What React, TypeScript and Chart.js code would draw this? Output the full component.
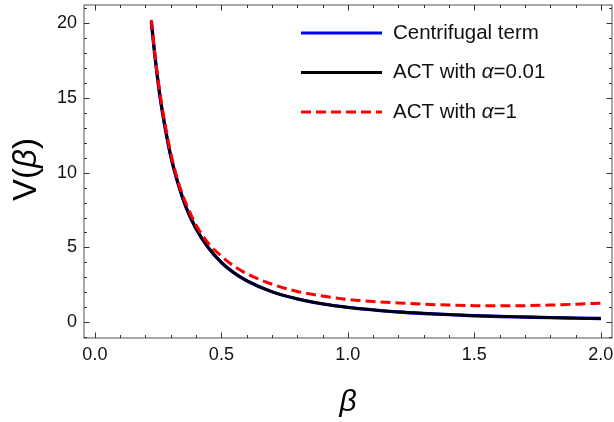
import { useEffect, useRef } from "react";
import { Chart, registerables } from "chart.js";

Chart.register(...registerables);

// β sample points
const beta = [0.223, 0.24, 0.26, 0.28, 0.3, 0.33, 0.36, 0.4, 0.45, 0.5, 0.55, 0.6, 0.7, 0.8, 0.9, 1.0, 1.1, 1.2, 1.3, 1.4, 1.5, 1.6, 1.7, 1.8, 1.9, 2.0];
// Centrifugal term (blue)
const centrifugal = [20.1, 17.4, 14.8, 12.8, 11.1, 9.2, 7.7, 6.25, 4.95, 4.0, 3.3, 2.78, 2.04, 1.56, 1.23, 1.0, 0.83, 0.69, 0.59, 0.51, 0.44, 0.39, 0.35, 0.31, 0.28, 0.25];
// ACT with α=0.01 (black)
const actAlpha001 = [20.1, 17.4, 14.8, 12.8, 11.1, 9.2, 7.7, 6.25, 4.95, 4.0, 3.3, 2.78, 2.04, 1.56, 1.23, 1.0, 0.83, 0.69, 0.59, 0.51, 0.44, 0.39, 0.35, 0.31, 0.28, 0.25];
// ACT with α=1 (red dashed)
const actAlpha1 = [20.2, 17.5, 15.0, 13.0, 11.3, 9.35, 7.95, 6.5, 5.25, 4.42, 3.75, 3.25, 2.55, 2.06, 1.75, 1.53, 1.39, 1.29, 1.21, 1.15, 1.11, 1.1, 1.11, 1.15, 1.21, 1.28];

const xTickValues = [0, 0.5, 1, 1.5, 2];
const xTickLabels = ["0.0", "0.5", "1.0", "1.5", "2.0"];
const yTickValues = [0, 5, 10, 15, 20];
const yTickLabels = ["0", "5", "10", "15", "20"];
const xRange = [-0.043, 2.044];
const yRange = [-1.05, 21.2];

const legendItems = [
  { parts: [{ t: "Centrifugal term", i: false }], color: "#0000ff", dash: [] as number[] },
  { parts: [{ t: "ACT with ", i: false }, { t: "α", i: true }, { t: "=0.01", i: false }], color: "#000000", dash: [] as number[] },
  { parts: [{ t: "ACT with ", i: false }, { t: "α", i: true }, { t: "=1", i: false }], color: "#ff0000", dash: [10, 5] },
];

const FONT = "'Liberation Sans', Arial, sans-serif";

function toPoints(vals: number[]) {
  return beta.map((b, i) => ({ x: b, y: vals[i] }));
}

function drawRich(ctx: CanvasRenderingContext2D, parts: { t: string; i: boolean }[], x: number, y: number, size: number, align: "left" | "center") {
  const widths = parts.map((p) => {
    ctx.font = `${p.i ? "italic " : ""}${size}px ${FONT}`;
    return ctx.measureText(p.t).width;
  });
  const total = widths.reduce((a, b) => a + b, 0);
  let cx = align === "center" ? x - total / 2 : x;
  ctx.textAlign = "left";
  parts.forEach((p, k) => {
    ctx.font = `${p.i ? "italic " : ""}${size}px ${FONT}`;
    ctx.fillText(p.t, cx, y);
    cx += widths[k];
  });
}

const framePlugin = {
  id: "framePlugin",
  afterDatasetsDraw(chart: any) {
    const { ctx, chartArea, scales } = chart;
    const { left, right, top, bottom } = chartArea;
    ctx.save();
    ctx.strokeStyle = "#707070";
    ctx.lineWidth = 1.2;
    ctx.strokeRect(left, top, right - left, bottom - top);
    ctx.strokeStyle = "#333333";
    ctx.lineWidth = 1;
    const xs = scales.x;
    const ys = scales.y;
    ctx.beginPath();
    for (let k = 0; k <= 20; k++) {
      const v = k / 10;
      const major = k % 5 === 0;
      const len = major ? 5.5 : 3;
      const px = Math.round(xs.getPixelForValue(v)) + 0.5;
      ctx.moveTo(px, bottom);
      ctx.lineTo(px, bottom - len);
      ctx.moveTo(px, top);
      ctx.lineTo(px, top + len);
    }
    for (let v = -1; v <= 21; v++) {
      const major = v % 5 === 0;
      const len = major ? 5.5 : 3;
      const py = Math.round(ys.getPixelForValue(v)) + 0.5;
      if (py < top - 0.5 || py > bottom + 0.5) continue;
      ctx.moveTo(left, py);
      ctx.lineTo(left + len, py);
      ctx.moveTo(right, py);
      ctx.lineTo(right - len, py);
    }
    ctx.stroke();
    ctx.restore();
  },
  afterDraw(chart: any) {
    const { ctx, chartArea } = chart;
    ctx.save();
    ctx.fillStyle = "#000000";
    ctx.textBaseline = "middle";
    // legend
    const lx0 = chartArea.left + 217;
    const lx1 = lx0 + 81;
    const tx = lx1 + 11;
    legendItems.forEach((item, k) => {
      const y = chartArea.top + 28 + k * 39.5;
      ctx.beginPath();
      ctx.strokeStyle = item.color;
      ctx.lineWidth = 3;
      ctx.setLineDash(item.dash);
      ctx.moveTo(lx0, y);
      ctx.lineTo(lx1, y);
      ctx.stroke();
      ctx.setLineDash([]);
      ctx.fillStyle = "#111111";
      drawRich(ctx, item.parts, tx, y, 20.5, "left");
    });
    // x title
    const cxm = (chartArea.left + chartArea.right) / 2;
    ctx.fillStyle = "#000000";
    drawRich(ctx, [{ t: "β", i: true }], cxm, chartArea.bottom + 65, 30, "center");
    // y title
    const cym = (chartArea.top + chartArea.bottom) / 2;
    ctx.translate(27, cym - 2);
    ctx.rotate(-Math.PI / 2);
    drawRich(ctx, [{ t: "V(", i: false }, { t: "β", i: true }, { t: ")", i: false }], 0, 0, 33, "center");
    ctx.restore();
  },
};

export default function App() {
  const ref = useRef<HTMLCanvasElement | null>(null);
  useEffect(() => {
    if (!ref.current) return;
    const chart = new Chart(ref.current, {
      type: "scatter",
      data: {
        datasets: [
          {
            label: "ACT with α=1",
            data: toPoints(actAlpha1),
            showLine: true,
            borderColor: "#ff0000",
            borderWidth: 3,
            borderDash: [10, 5],
            pointRadius: 0,
            cubicInterpolationMode: "monotone",
            order: 1,
          },
          {
            label: "ACT with α=0.01",
            data: toPoints(actAlpha001),
            showLine: true,
            borderColor: "#000000",
            borderWidth: 2.8,
            pointRadius: 0,
            cubicInterpolationMode: "monotone",
            order: 2,
          },
          {
            label: "Centrifugal term",
            data: toPoints(centrifugal),
            showLine: true,
            borderColor: "#0000ff",
            borderWidth: 3.4,
            pointRadius: 0,
            cubicInterpolationMode: "monotone",
            order: 3,
          },
        ] as any,
      },
      options: {
        animation: false,
        responsive: false,
        maintainAspectRatio: false,
        layout: { padding: { top: 5, right: 2, left: 0, bottom: 0 } },
        plugins: { legend: { display: false }, tooltip: { enabled: false } },
        scales: {
          x: {
            type: "linear",
            min: xRange[0],
            max: xRange[1],
            grid: { display: false, drawTicks: false },
            border: { display: false },
            afterBuildTicks: (s: any) => {
              s.ticks = xTickValues.map((v) => ({ value: v }));
            },
            afterFit: (s: any) => {
              s.height = 84;
              s.paddingLeft = 0;
              s.paddingRight = 0;
            },
            ticks: {
              autoSkip: false,
              maxRotation: 0,
              padding: 6,
              color: "#111111",
              font: { family: FONT, size: 18 },
              callback: (_v: any, i: number) => xTickLabels[i],
            },
          },
          y: {
            type: "linear",
            min: yRange[0],
            max: yRange[1],
            grid: { display: false, drawTicks: false },
            border: { display: false },
            afterBuildTicks: (s: any) => {
              s.ticks = yTickValues.map((v) => ({ value: v }));
            },
            afterFit: (s: any) => {
              s.width = 84;
              s.paddingTop = 0;
              s.paddingBottom = 0;
            },
            ticks: {
              autoSkip: false,
              padding: 7,
              color: "#111111",
              font: { family: FONT, size: 18 },
              callback: (_v: any, i: number) => yTickLabels[i],
            },
          },
        },
      } as any,
      plugins: [framePlugin],
    });
    return () => chart.destroy();
  }, []);
  return (
    <div style={{ position: "fixed", left: 0, top: 0, width: 614, height: 422, background: "#fff" }}>
      <canvas ref={ref} width={614} height={422} style={{ width: 614, height: 422, display: "block" }} />
    </div>
  );
}
